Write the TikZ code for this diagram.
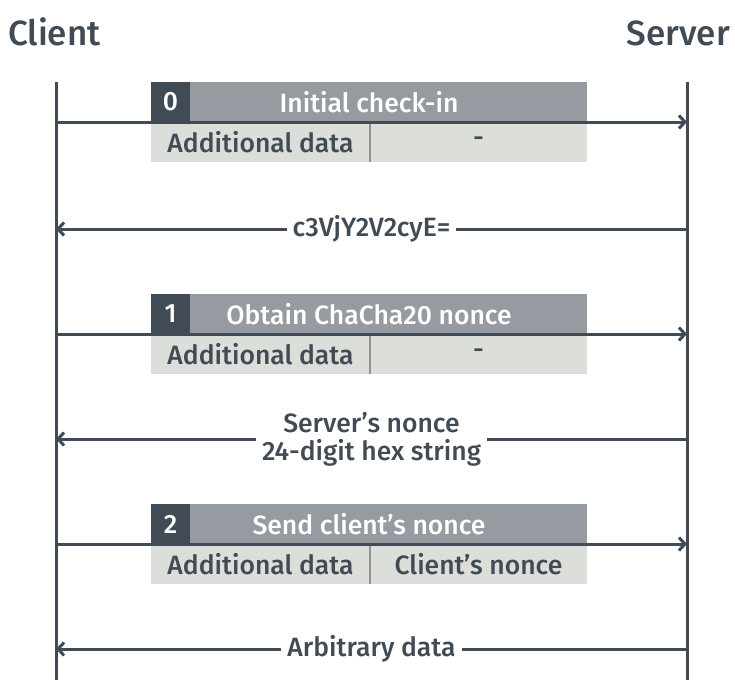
\documentclass[tikz,border=0pt]{standalone}
\usepackage{fontspec}
\setmainfont{Fira Sans}[UprightFont={* Medium}]
\usetikzlibrary{arrows.meta}
\definecolor{ink}{HTML}{414B55}
\definecolor{hdr}{HTML}{959BA0}
\definecolor{rowc}{HTML}{DCDEDA}
\definecolor{divc}{HTML}{8C9297}
\newcommand\mytitlefont{\fontsize{35}{42}\selectfont}
\newcommand\mybodyfont{\fontsize{26.5}{28}\selectfont}
\begin{document}
\begin{tikzpicture}[x=1pt,y=-1pt,
  cell/.style={inner sep=0pt, outer sep=0pt, minimum height=40pt, anchor=north west, font=\mybodyfont},
  numcell/.style={cell, minimum width=39pt, fill=ink, text=white},
  hdrcell/.style={cell, minimum width=436pt, fill=hdr, text=white},
  addcell/.style={cell, minimum width=219pt, fill=rowc, text=ink},
  valcell/.style={cell, minimum width=217pt, fill=rowc, text=ink},
  divline/.style={divc, line width=1.5pt},
  life/.style={ink, line width=3pt},
  msg/.style={ink, line width=3pt, -{Straight Barb[length=6pt,width=13pt]}},
  lbl/.style={fill=white, text=ink, font=\mybodyfont, inner xsep=6pt, inner ysep=1pt, align=center},
  ttl/.style={text=ink, font=\mytitlefont, inner sep=0pt}]
\useasboundingbox (0,0) rectangle (735,680);
% titles
\node[ttl, anchor=base west] (tc) at (8,45) {Client};
\node[ttl, anchor=base east] (ts) at (730,45) {Server};
% lifelines
\coordinate (c0) at (56,82);
\coordinate (c1) at (56,680);
\coordinate (s0) at (687,82);
\coordinate (s1) at (687,680);
\draw[life] (c0) -- (c1);
\draw[life] (s0) -- (s1);
% box 0
\node[hdrcell] (h0) at (151,82) {Initial check-in};
\node[numcell] (n0) at (151,82) {0};
\node[addcell] (a0) at (151,122) {Additional data};
\node[valcell] (v0) at (370,122) {-};
\draw[divline] (v0.north west) -- (v0.south west);
\coordinate (m0s) at (56,122);
\coordinate (m0e) at (687,122);
\draw[msg] (m0s) -- (m0e);
% reply 0
\coordinate (r0s) at (687,229);
\coordinate (r0e) at (56,229);
\draw[msg] (r0s) -- node[lbl] (l0) {c3VjY2V2cyE=} (r0e);
% box 1
\node[hdrcell] (h1) at (151,294) {Obtain ChaCha20 nonce};
\node[numcell] (n1) at (151,294) {1};
\node[addcell] (a1) at (151,334) {Additional data};
\node[valcell] (v1) at (370,334) {-};
\draw[divline] (v1.north west) -- (v1.south west);
\coordinate (m1s) at (56,334);
\coordinate (m1e) at (687,334);
\draw[msg] (m1s) -- (m1e);
% reply 1
\coordinate (r1s) at (687,439);
\coordinate (r1e) at (56,439);
\draw[msg] (r1s) -- node[lbl] (l1) {Server’s nonce\\24-digit hex string} (r1e);
% box 2
\node[hdrcell] (h2) at (151,504) {Send client’s nonce};
\node[numcell] (n2) at (151,504) {2};
\node[addcell] (a2) at (151,544) {Additional data};
\node[valcell] (v2) at (370,544) {Client’s nonce};
\draw[divline] (v2.north west) -- (v2.south west);
\coordinate (m2s) at (56,544);
\coordinate (m2e) at (687,544);
\draw[msg] (m2s) -- (m2e);
% reply 2
\coordinate (r2s) at (687,649);
\coordinate (r2e) at (56,649);
\draw[msg] (r2s) -- node[lbl] (l2) {Arbitrary data} (r2e);
\end{tikzpicture}
\end{document}
